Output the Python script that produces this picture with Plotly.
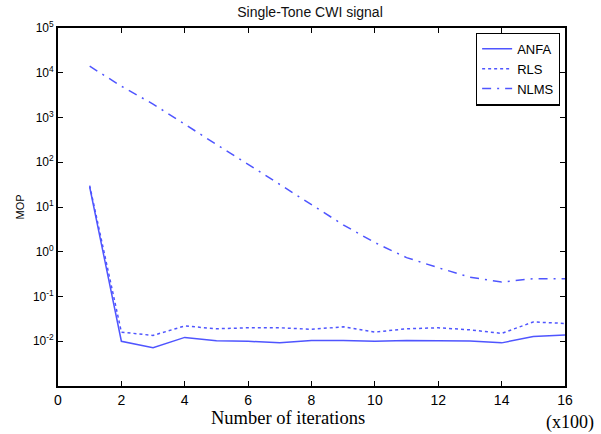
import plotly.graph_objects as go

# Iteration index (x100)
iterations = list(range(1, 17))

# Mean output power per method
anfa = [28, 0.0100, 0.0072, 0.0122, 0.0102, 0.0100, 0.0092, 0.0104, 0.0104,
        0.0100, 0.0104, 0.0104, 0.0101, 0.0092, 0.0128, 0.0138]
rls = [30, 0.0160, 0.0135, 0.0220, 0.0190, 0.0200, 0.0200, 0.0185, 0.0210,
       0.0160, 0.0190, 0.0200, 0.0180, 0.0150, 0.0270, 0.0250]
nlms = [14000, 5000, 2000, 700, 250, 90, 32, 11, 4.0,
        1.6, 0.74, 0.44, 0.27, 0.21, 0.25, 0.25]

y_tickvals = [1e-2, 1e-1, 1, 10, 100, 1e3, 1e4, 1e5]
y_ticktext = ["10<sup>-2</sup>", "10<sup>-1</sup>", "10<sup>0</sup>", "10<sup>1</sup>",
              "10<sup>2</sup>", "10<sup>3</sup>", "10<sup>4</sup>", "10<sup>5</sup>"]
x_tickvals = [0, 2, 4, 6, 8, 10, 12, 14, 16]

blue = "#4f55ff"
sans = "Liberation Sans, Arial, sans-serif"
serif = "Liberation Serif, Times New Roman, serif"

fig = go.Figure()
fig.add_trace(go.Scatter(x=iterations, y=anfa, name="ANFA", mode="lines",
                         line=dict(color=blue, width=1.5, dash="solid")))
fig.add_trace(go.Scatter(x=iterations, y=rls, name="RLS", mode="lines",
                         line=dict(color=blue, width=1.5, dash="3px,3px")))
fig.add_trace(go.Scatter(x=iterations, y=nlms, name="NLMS", mode="lines",
                         line=dict(color=blue, width=1.5, dash="9px,6px,2px,6px")))

fig.update_layout(
    width=601, height=434,
    margin=dict(l=58, r=36, t=28, b=48),
    paper_bgcolor="white", plot_bgcolor="white",
    font=dict(family=sans, color="black", size=11),
    title=dict(text="Single-Tone CWI signal", x=(232 + 388) / 2 / 601, xanchor="center",
               y=1 - 12 / 434, yanchor="middle",
               font=dict(size=14, family=sans, color="#111")),
    showlegend=True,
    legend=dict(x=0.99, y=0.987, xanchor="right", yanchor="top",
                bgcolor="white", bordercolor="black", borderwidth=1.2,
                font=dict(size=13, family=sans), tracegroupgap=0, itemwidth=30),
    xaxis=dict(range=[0, 16], tickvals=x_tickvals, ticks="inside", ticklen=5,
               tickcolor="black", showline=True, linecolor="black", linewidth=1.8,
               mirror="ticks", showgrid=False, zeroline=False,
               tickfont=dict(size=14, family=sans)),
    yaxis=dict(type="log", range=[-3, 5], tickvals=y_tickvals, ticktext=y_ticktext,
               ticks="inside", ticklen=5, tickcolor="black", showline=True,
               linecolor="black", linewidth=1.8, mirror="ticks", showgrid=False,
               zeroline=False, tickfont=dict(size=12, family=sans),
               title=dict(text="MOP", font=dict(size=11), standoff=6)),
)

fig.add_annotation(text="Number of iterations", xref="paper", yref="paper",
                   x=(288 - 58) / 507, y=-(410 - 386) / 358 + 0.01, xanchor="center",
                   yanchor="top", showarrow=False,
                   font=dict(family=serif, size=18.5))
fig.add_annotation(text="(x100)", xref="paper", yref="paper",
                   x=(596 - 58) / 507, y=-(414 - 386) / 358 + 0.01, xanchor="right",
                   yanchor="top", showarrow=False,
                   font=dict(family=serif, size=18))

fig.write_html("out.html")
